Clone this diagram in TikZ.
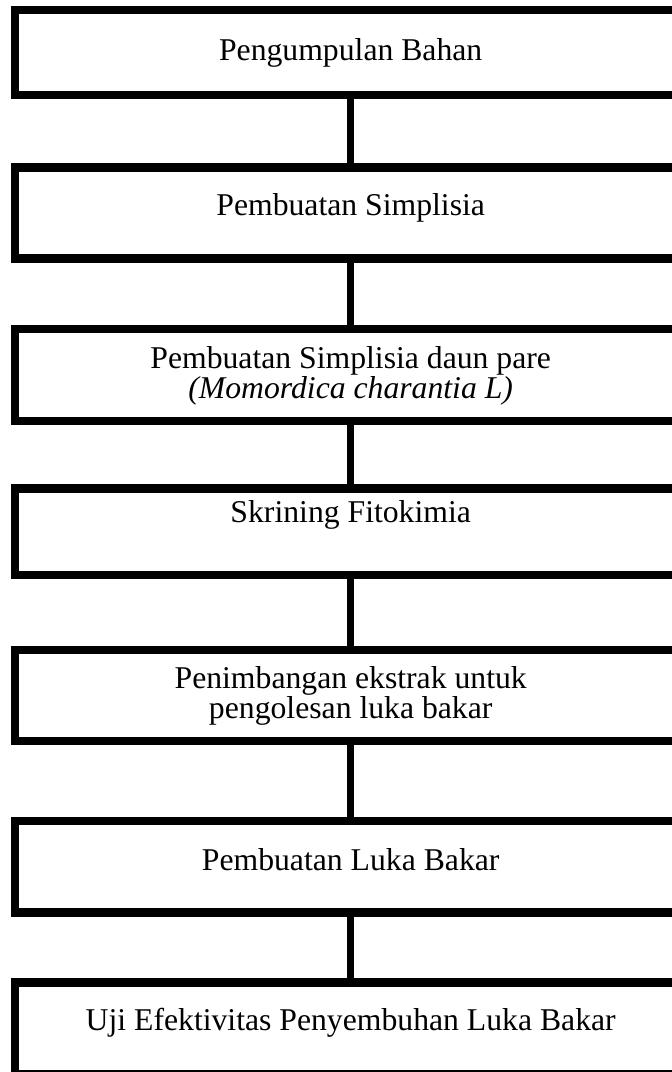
\documentclass[tikz,border=0pt]{standalone}
\usepackage{fontspec}
\setmainfont{Liberation Serif}
\begin{document}
\begin{tikzpicture}[x=1pt,y=-1pt,
  box/.style={draw=black, line width=8.3pt, rectangle, minimum width=671pt, outer sep=0pt, inner sep=0pt},
  conn/.style={draw=black, line width=7.5pt},
  txt/.style={anchor=base, align=center, inner sep=0pt, font=\fontsize{31.7}{30}\selectfont}]
\useasboundingbox (0,0) rectangle (672,1072);
\fill[white] (0,0) rectangle (672,1072);
\node[box, minimum height=85pt]   (b1) at (350.7,52.5) {};
\node[box, minimum height=91pt]   (b2) at (350.7,213) {};
\node[box, minimum height=92pt]   (b3) at (350.7,375) {};
\node[box, minimum height=86.5pt] (b4) at (350.7,531.75) {};
\node[box, minimum height=91pt]   (b5) at (350.7,695.5) {};
\node[box, minimum height=91.5pt] (b6) at (350.7,866.75) {};
\node[box, minimum height=91.5pt] (b7) at (350.7,1028.25) {};
\draw[conn] (b1.south) -- (b2.north);
\draw[conn] (b2.south) -- (b3.north);
\draw[conn] (b3.south) -- (b4.north);
\draw[conn] (b4.south) -- (b5.north);
\draw[conn] (b5.south) -- (b6.north);
\draw[conn] (b6.south) -- (b7.north);
\node[txt] (t1) at (350.7,60) {Pengumpulan Bahan};
\node[txt] (t2) at (350.7,215) {Pembuatan Simplisia};
\node[txt] (t3) at (350.7,398) {Pembuatan Simplisia daun pare\\\textit{(Momordica charantia L)}};
\node[txt] (t4) at (350.7,522) {Skrining Fitokimia};
\node[txt] (t5) at (350.7,718) {Penimbangan ekstrak untuk\\pengolesan luka bakar};
\node[txt] (t6) at (350.7,870) {Pembuatan Luka Bakar};
\node[txt] (t7) at (350.7,1030) {Uji Efektivitas Penyembuhan Luka Bakar};
\end{tikzpicture}
\end{document}
